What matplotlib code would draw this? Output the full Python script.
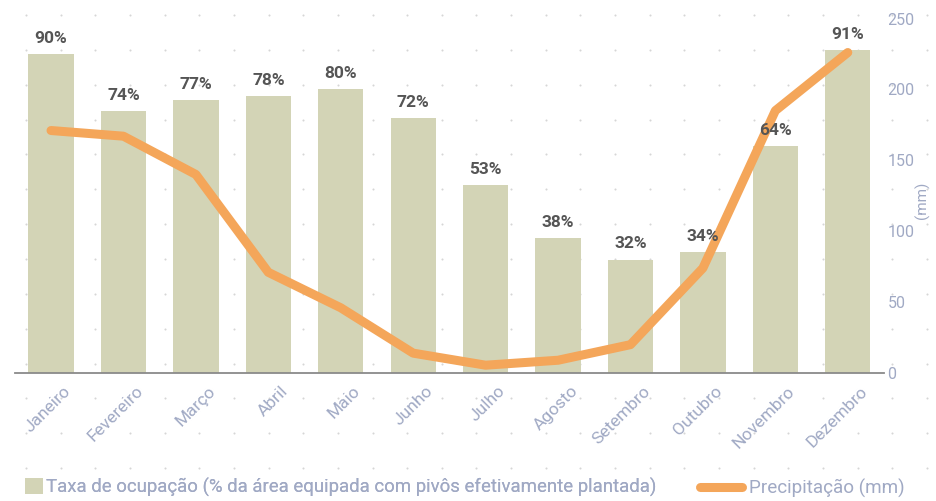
import matplotlib
matplotlib.use("Agg")
import matplotlib.pyplot as plt
import matplotlib.transforms as mtransforms
from matplotlib.patches import Patch
from matplotlib.lines import Line2D
import numpy as np

# ---- data ----
months = ["Janeiro", "Fevereiro", "Março", "Abril", "Maio", "Junho",
          "Julho", "Agosto", "Setembro", "Outubro", "Novembro", "Dezembro"]
occupancy_pct = [90, 74, 77, 78, 80, 72, 53, 38, 32, 34, 64, 91]
precip_mm = [171, 167, 140, 71, 46, 14, 5.5, 9, 20, 74, 185, 226]
mm_ticks = [0, 50, 100, 150, 200, 250]
bar_legend = "Taxa de ocupação (% da área equipada com pivôs efetivamente plantada)"
line_legend = "Precipitação (mm)"

# ---- style ----
W, H, DPI = 936, 501, 100
bar_color = "#D3D4B6"
line_color = "#F4A65A"
label_color = "#555555"
axis_text = "#A0A9C4"
dot_color = "#D6D6D6"
plt.rcParams["font.family"] = ["Roboto", "DejaVu Sans"]

fig = plt.figure(figsize=(W / DPI, H / DPI), dpi=DPI)
fig.patch.set_facecolor("white")

# background dotted grid (decoration)
bg = fig.add_axes([0, 0, 1, 1], zorder=0)
bg.set_xlim(0, W)
bg.set_ylim(H, 0)
bg.axis("off")
gx = np.arange(26, W, 34.65)
gy = np.arange(15, H, 34.85)
GX, GY = np.meshgrid(gx, gy)
bg.scatter(GX.ravel(), GY.ravel(), s=2.2, color=dot_color, linewidths=0)

# main axes
left = 14.8 / W
right_px = 884
bottom = (H - 373) / H
top_px = 18.5
ax = fig.add_axes([left, bottom, (right_px - 14.8) / W, (373 - top_px) / H], zorder=2)
ax.set_facecolor("none")
x = np.arange(len(months))
ax.bar(x, occupancy_pct, width=0.626, color=bar_color, zorder=2)
ax.set_xlim(-0.5, len(months) - 0.5)
ax.set_ylim(0, 100)
ax.set_yticks([])
for s in ["top", "left", "right"]:
    ax.spines[s].set_visible(False)
ax.spines["bottom"].set_color("#8A8A8A")
ax.spines["bottom"].set_linewidth(1.3)
ax.spines["bottom"].set_zorder(5)

ax.set_xticks(x)
ax.set_xticklabels(months, rotation=45, ha="right", va="top",
                   rotation_mode="anchor", fontsize=12.5, color=axis_text)
ax.tick_params(axis="x", length=0, pad=7.5)
offset = mtransforms.ScaledTranslation(12 / DPI, 0, fig.dpi_scale_trans)
for lab in ax.get_xticklabels():
    lab.set_transform(lab.get_transform() + offset)

# precipitation axis
ax2 = ax.twinx()
ax2.set_facecolor("none")
ax2.plot(x, precip_mm, color=line_color, lw=6.5, solid_joinstyle="round",
         solid_capstyle="round", zorder=4)
ax2.set_ylim(0, 250)
ax2.set_yticks(mm_ticks)
ax2.set_yticklabels([str(t) for t in mm_ticks], fontsize=11.5, color=axis_text)
ax2.tick_params(axis="y", length=0, pad=2.5)
for s in ["top", "left", "right", "bottom"]:
    ax2.spines[s].set_visible(False)

# value labels above bars, drawn above the line
for xi, v in zip(x, occupancy_pct):
    ax2.annotate(f"{v}%", (xi, v), xycoords=ax.transData, xytext=(0, 8),
                 textcoords="offset points", ha="center", va="baseline",
                 fontsize=12.5, fontweight="bold", color=label_color, zorder=6)

fig.text(922 / W, 1 - 200 / H, "(mm)", rotation=90, ha="center", va="center",
         fontsize=11, color=axis_text)

# legends
leg1 = fig.legend(handles=[Patch(facecolor=bar_color, edgecolor="none")],
                  labels=[bar_legend], loc="center left",
                  bbox_to_anchor=(25 / W, 1 - 487 / H), frameon=False,
                  fontsize=13.4, handlelength=0.95, handleheight=0.95,
                  handletextpad=0.2, borderpad=0, borderaxespad=0)
for t in leg1.get_texts():
    t.set_color(axis_text)
fig.add_artist(leg1)
leg2 = fig.legend(handles=[Line2D([0], [0], color=line_color, lw=6.5,
                                  solid_capstyle="round")],
                  labels=[line_legend], loc="center left",
                  bbox_to_anchor=(700 / W, 1 - 488 / H), frameon=False,
                  fontsize=13.6, handlelength=2.2, handletextpad=0.4,
                  borderpad=0, borderaxespad=0)
for t in leg2.get_texts():
    t.set_color(axis_text)

fig.savefig("out.png", dpi=DPI, facecolor="white")
